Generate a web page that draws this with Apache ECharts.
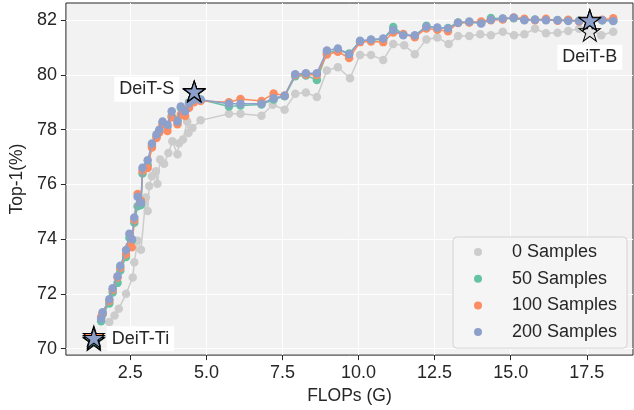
<!DOCTYPE html>
<html><head><meta charset="utf-8">
<script src="https://cdn.jsdelivr.net/npm/echarts@6/dist/echarts.min.js"></script>
<style>html,body{margin:0;padding:0;background:#fff}#c{width:634px;height:410px}</style>
</head><body><div id="c"></div>
<script>
const seriesNames = ['0 Samples', '50 Samples', '100 Samples', '200 Samples'];
const colors = ['#cccccc', '#66c2a5', '#fc8d62', '#8da0cb'];
const xTicks = [2.5, 5, 7.5, 10, 12.5, 15, 17.5];
const yTicks = [70, 72, 74, 76, 78, 80, 82];

// 0 Samples (gray)
const flops0 = [1.81, 1.98, 2.12, 2.36, 2.58, 2.63, 2.74, 2.85, 3.01, 3.07, 3.12, 3.21, 3.34, 3.39, 3.48, 3.61, 3.75, 3.88, 4.05, 4.10, 4.23, 4.37, 4.41, 4.54, 4.81,
  5.74, 6.12, 6.81, 7.18, 7.57, 7.92, 8.27, 8.63, 8.96, 9.32, 9.72, 10.05, 10.41, 10.81, 11.14, 11.50, 11.85, 12.23, 12.59, 12.96, 13.27, 13.64, 14.00, 14.35,
  14.74, 15.11, 15.45, 15.80, 16.16, 16.54, 16.89, 17.25, 17.61, 17.98, 18.37];
const top1_0 = [70.97, 71.21, 71.45, 72.00, 72.60, 73.15, 73.94, 73.61, 75.52, 75.03, 75.94, 76.30, 76.48, 76.02, 76.91, 76.75, 77.15, 77.58, 77.10, 77.50, 77.64, 78.30, 77.88, 78.06, 78.34,
  78.58, 78.58, 78.51, 78.91, 78.73, 79.31, 79.36, 79.19, 80.16, 80.28, 79.88, 80.73, 80.73, 80.55, 81.13, 81.09, 80.76, 81.30, 81.37, 81.13, 81.42, 81.42, 81.49, 81.45,
  81.58, 81.45, 81.49, 81.69, 81.52, 81.54, 81.61, 81.69, 81.65, 81.45, 81.58];

// 50 / 100 / 200 Samples share FLOPs
const flops = [1.54, 1.59, 1.81, 1.92, 2.08, 2.17, 2.36, 2.47, 2.55, 2.63, 2.74, 2.85, 2.90, 3.07, 3.21, 3.36, 3.45, 3.56, 3.72, 3.86, 4.05, 4.16, 4.30, 4.43, 4.59, 4.81,
  5.74, 6.12, 6.81, 7.21, 7.57, 7.92, 8.27, 8.63, 8.96, 9.32, 9.69, 10.05, 10.41, 10.81, 11.14, 11.47, 11.85, 12.23, 12.59, 12.94, 13.27, 13.64, 14.03, 14.35,
  14.74, 15.10, 15.45, 15.80, 16.16, 16.54, 16.89, 17.25, 17.63, 18.01, 18.37];
const top1_50 = [71.00, 71.25, 71.65, 72.05, 72.40, 72.85, 73.35, 74.05, 73.95, 74.60, 75.20, 75.25, 76.40, 76.70, 77.40, 77.75, 77.95, 78.25, 78.10, 78.50, 78.35, 78.80, 78.70, 79.00, 79.15, 79.10,
  78.85, 78.88, 78.92, 79.10, 79.22, 79.95, 79.98, 79.82, 80.80, 80.90, 80.78, 81.22, 81.28, 81.30, 81.75, 81.48, 81.42, 81.80, 81.70, 81.72, 81.92, 81.93, 81.90, 82.08,
  82.05, 82.07, 82.02, 82.03, 82.02, 82.01, 82.00, 81.98, 81.99, 82.00, 81.98];
const top1_100 = [71.15, 71.30, 71.75, 72.15, 72.60, 72.95, 73.45, 73.75, 73.70, 74.70, 75.65, 75.40, 76.50, 76.60, 77.35, 77.70, 77.90, 78.20, 77.95, 78.45, 78.20, 78.55, 78.50, 78.80, 79.00, 79.05,
  79.00, 79.12, 79.05, 79.32, 79.25, 80.00, 80.02, 80.00, 80.75, 80.85, 80.62, 81.20, 81.22, 81.20, 81.55, 81.50, 81.38, 81.70, 81.65, 81.60, 81.90, 81.92, 81.95, 82.00,
  82.03, 82.10, 82.05, 82.00, 82.05, 81.98, 82.02, 81.95, 81.95, 82.02, 82.07];
const top1_200 = [71.09, 71.33, 71.80, 72.20, 72.64, 73.03, 73.60, 74.20, 74.00, 74.79, 75.55, 75.33, 76.61, 76.88, 77.49, 77.82, 78.00, 78.30, 78.18, 78.67, 78.30, 78.85, 78.67, 78.97, 79.09, 79.09,
  78.95, 78.95, 78.95, 79.15, 79.24, 80.03, 80.06, 80.06, 80.89, 80.97, 80.76, 81.25, 81.30, 81.33, 81.64, 81.45, 81.45, 81.76, 81.73, 81.70, 81.91, 81.95, 81.88, 82.02,
  82.06, 82.09, 82.00, 82.02, 82.00, 82.00, 81.97, 81.97, 81.97, 82.00, 81.97];

// DeiT reference models (stars)
const deitNames = ['DeiT-Ti', 'DeiT-S', 'DeiT-B'];
const deitFlops = [1.3, 4.6, 17.6];
const deit_0 = [70.30, 79.38, 81.60];
const deit_50 = [70.33, 79.40, 82.00];
const deit_100 = [70.46, 79.42, 82.02];
const deit_200 = [70.39, 79.40, 82.00];

const FONT = "'Liberation Sans', Arial, Helvetica, sans-serif";
const TXT = '#262626';

const starPath = (function () {
  let d = '';
  for (let i = 0; i < 10; i++) {
    const a = Math.PI / 2 + i * Math.PI / 5;
    const r = i % 2 ? 0.382 : 1;
    const x = r * Math.cos(a) * 50 + 50;
    const y = -r * Math.sin(a) * 50 + 50;
    d += (i ? 'L' : 'M') + x.toFixed(2) + ',' + y.toFixed(2);
  }
  return 'path://' + d + 'Z';
})();

const lineX = [flops0, flops, flops, flops];
const lineY = [top1_0, top1_50, top1_100, top1_200];
const starY = [deit_0, deit_50, deit_100, deit_200];
const starFill = ['#e4e4e4', colors[1], colors[2], colors[3]];
const labelCfg = [
  { position: 'right', distance: 2, offset: [0, 1] },
  { position: 'left', distance: 2, offset: [-2, -2] },
  { position: 'inside', offset: [0, 37] }
];

const series = [];
lineY.forEach(function (ys, k) {
  series.push({
    name: seriesNames[k],
    type: 'line',
    data: ys.map(function (v, i) { return [lineX[k][i], v]; }),
    symbol: 'circle',
    symbolSize: 8.5,
    showSymbol: true,
    itemStyle: { color: colors[k], opacity: 1 },
    lineStyle: { color: colors[k], width: 1.5 },
    z: 2 + k * 0.1,
    silent: true
  });
});
starY.forEach(function (ys, k) {
  series.push({
    name: 'star' + k,
    type: 'scatter',
    symbol: starPath,
    symbolSize: [21, 20],
    z: 5,
    itemStyle: { color: starFill[k], borderColor: '#000', borderWidth: 1, opacity: 1 },
    data: ys.map(function (v, i) {
      const item = { value: [deitFlops[i], v] };
      if (k === 3) {
        item.label = Object.assign({
          show: true,
          formatter: deitNames[i],
          fontFamily: FONT,
          fontSize: 18,
          color: TXT,
          opacity: 1,
          backgroundColor: '#ffffff',
          padding: [4, 5, 3, 5]
        }, labelCfg[i]);
      }
      return item;
    }),
    silent: true
  });
});

const chart = echarts.init(document.getElementById('c'), null, { renderer: 'canvas' });
chart.setOption({
  animation: false,
  backgroundColor: '#ffffff',
  textStyle: { fontFamily: FONT },
  grid: { left: 63, top: 3, right: 1, bottom: 53, show: true, backgroundColor: '#f2f2f2', borderColor: '#262626', borderWidth: 1 },
  xAxis: {
    type: 'value', min: 0.383, max: 19.02,
    axisLine: { show: false },
    axisTick: { show: true, inside: false, length: 5, customValues: xTicks, lineStyle: { color: TXT, width: 1 } },
    axisLabel: { customValues: xTicks, formatter: function (v) { return v.toFixed(1); }, fontSize: 18, color: TXT, margin: 9, fontFamily: FONT },
    splitLine: { show: true, lineStyle: { color: '#ffffff', width: 1 } },
    name: 'FLOPs (G)', nameLocation: 'middle', nameGap: 31,
    nameTextStyle: { fontSize: 17.5, color: TXT, fontFamily: FONT }
  },
  yAxis: {
    type: 'value', min: 69.76, max: 82.63,
    axisLine: { show: false },
    axisTick: { show: true, inside: false, length: 5, customValues: yTicks, lineStyle: { color: TXT, width: 1 } },
    axisLabel: { customValues: yTicks, formatter: function (v) { return String(Math.round(v)); }, fontSize: 18, color: TXT, margin: 9, fontFamily: FONT },
    splitLine: { show: true, lineStyle: { color: '#ffffff', width: 1 } },
    name: 'Top-1(%)', nameLocation: 'middle', nameGap: 36, nameRotate: 90,
    nameTextStyle: { fontSize: 17.5, color: TXT, fontFamily: FONT }
  },
  legend: {
    data: seriesNames,
    orient: 'vertical',
    left: 453, top: 237,
    icon: 'circle',
    itemWidth: 10, itemHeight: 8,
    itemGap: 6.7,
    padding: [5, 10, 6, 21],
    backgroundColor: '#f5f5f5',
    borderColor: '#d4d4d4', borderWidth: 1, borderRadius: 4,
    textStyle: { fontSize: 18, color: TXT, fontFamily: FONT, lineHeight: 20, padding: [0, 0, 0, 24] },
    selectedMode: false
  },
  series: series
});
</script>
</body></html>
